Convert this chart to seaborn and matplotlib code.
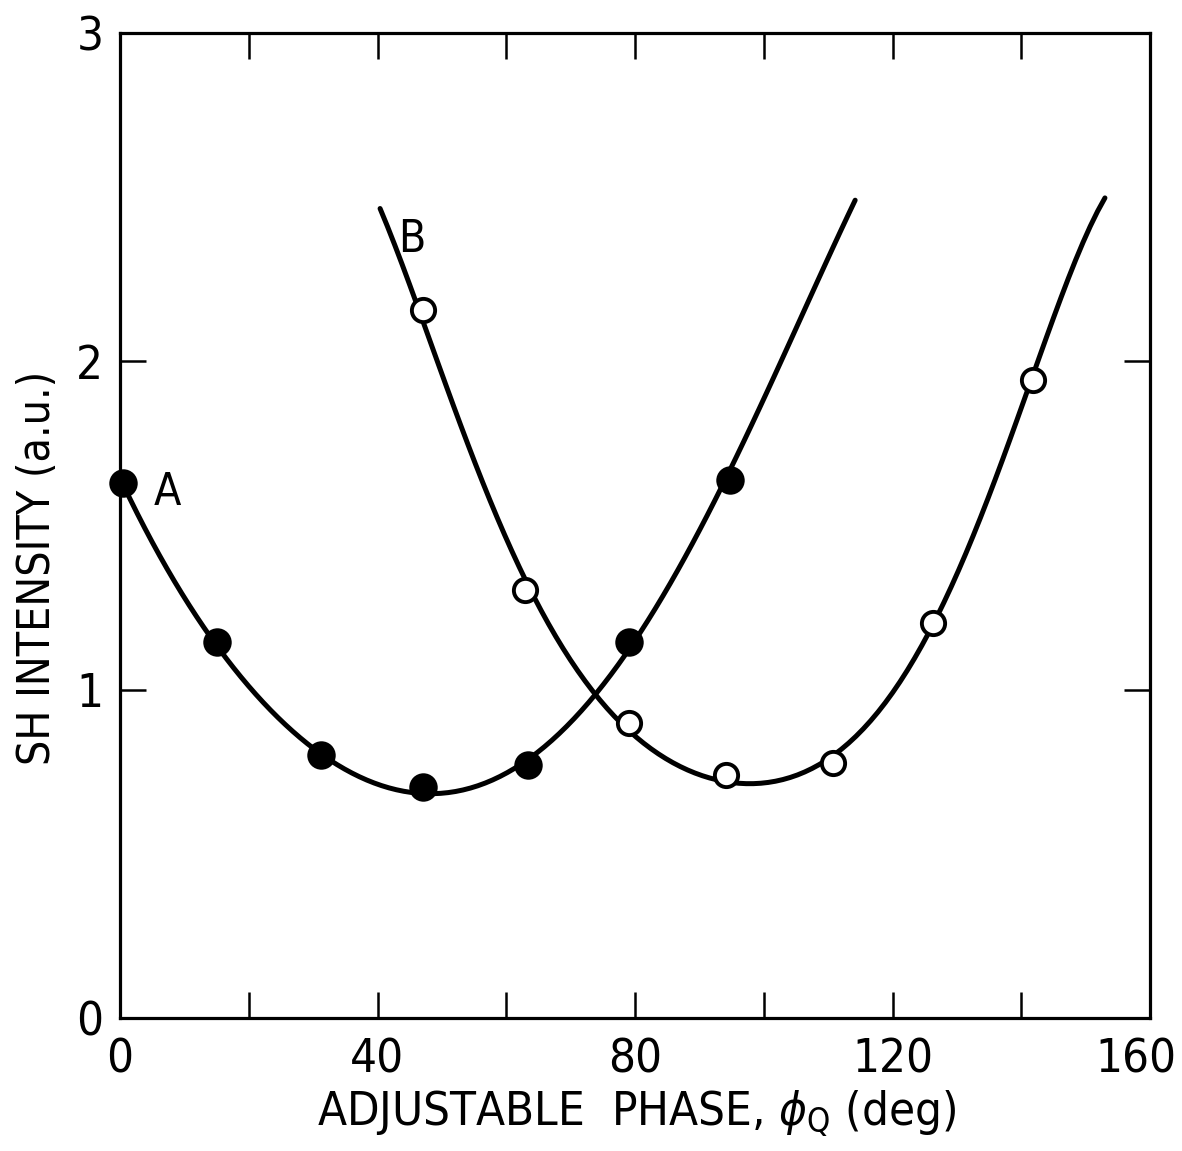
import matplotlib
matplotlib.use("Agg")
import matplotlib.pyplot as plt
import matplotlib.transforms as mtransforms
import numpy as np
import pandas as pd
import seaborn as sns
from matplotlib.ticker import FixedLocator

# ---- data ----
a_phase = [0.4, 15.1, 31.3, 47.1, 63.4, 79.0, 94.8]
a_intensity = [1.629, 1.146, 0.801, 0.705, 0.771, 1.146, 1.639]

b_phase = [47.1, 62.9, 79.1, 94.2, 110.8, 126.3, 141.9]
b_intensity = [2.157, 1.304, 0.900, 0.740, 0.776, 1.202, 1.943]

a_curve_phase = [0.4, 5.2, 9.8, 15.1, 21.7, 26.9, 31.3, 37.3, 43.0, 47.6, 53.9,
                 58.7, 63.4, 67.8, 74.6, 79.0, 84.9, 90.1, 94.8, 100.5, 105.6,
                 110.8, 114.2]
a_curve_intensity = [1.629, 1.446, 1.273, 1.146, 0.969, 0.867, 0.801, 0.735,
                     0.703, 0.689, 0.700, 0.735, 0.771, 0.847, 0.984, 1.148,
                     1.335, 1.490, 1.639, 1.903, 2.136, 2.349, 2.490]

b_curve_phase = [40.4, 43.8, 47.1, 49.2, 51.3, 53.3, 55.7, 57.5, 60.1, 62.9,
                 66.8, 70.4, 74.6, 79.1, 82.3, 87.5, 90.5, 95.8, 100.5, 105.6,
                 110.8, 116.0, 121.2, 126.3, 131.5, 136.2, 141.9, 146.5, 153.0]
b_curve_intensity = [2.441, 2.299, 2.157, 2.040, 1.892, 1.781, 1.649, 1.557,
                     1.430, 1.304, 1.190, 1.100, 0.984, 0.898, 0.826, 0.765,
                     0.735, 0.710, 0.715, 0.740, 0.776, 0.877, 1.040, 1.202,
                     1.446, 1.669, 1.943, 2.187, 2.512]

x_ticks = [0, 40, 80, 120, 160]
x_minor = [20, 60, 100, 140]
y_ticks = [0, 1, 2, 3]

curve_labels = ["A", "B"]
label_pos_x = [7.3, 45.3]
label_pos_y = [1.60, 2.37]

# ---- style ----
sns.set_theme(style="ticks")
FONT = ["DejaVu Sans"]
plt.rcParams["font.family"] = FONT
plt.rcParams["font.stretch"] = "condensed"
plt.rcParams["mathtext.fontset"] = "dejavusans"
for key in ["text.color", "axes.labelcolor", "xtick.color", "ytick.color",
            "axes.edgecolor"]:
    plt.rcParams[key] = "black"

fig = plt.figure(figsize=(11.82, 11.51), dpi=100)
ax = fig.add_axes([120 / 1182, 133 / 1151, 1030 / 1182, 985 / 1151])

# smooth hand-drawn style curves: polynomial fit through the read curve points
sns.regplot(x=np.array(a_curve_phase), y=np.array(a_curve_intensity), order=5,
            ci=None, scatter=False, truncate=True, ax=ax,
            line_kws=dict(color="black", linewidth=3.6, solid_capstyle="round"))
sns.regplot(x=np.array(b_curve_phase), y=np.array(b_curve_intensity), order=6,
            ci=None, scatter=False, truncate=True, ax=ax,
            line_kws=dict(color="black", linewidth=3.6, solid_capstyle="round"))

pa = pd.DataFrame({"phase": a_phase, "intensity": a_intensity})
pb = pd.DataFrame({"phase": b_phase, "intensity": b_intensity})
sns.scatterplot(data=pa, x="phase", y="intensity", s=360, color="black",
                edgecolor="black", linewidth=1.5, ax=ax, zorder=5, clip_on=False)
sns.scatterplot(data=pb, x="phase", y="intensity", s=280, facecolor="white",
                edgecolor="black", linewidth=2.8, ax=ax, zorder=5, clip_on=False)

for lab, lx, ly in zip(curve_labels, label_pos_x, label_pos_y):
    ax.text(lx, ly, lab, fontsize=32, ha="center", va="center")

ax.set_xlim(0, 160)
ax.set_ylim(0, 3)
ax.xaxis.set_major_locator(FixedLocator(x_ticks))
ax.xaxis.set_minor_locator(FixedLocator(x_minor))
ax.yaxis.set_major_locator(FixedLocator(y_ticks))
ax.set_xticklabels([str(v) for v in x_ticks])
ax.set_yticklabels([str(v) for v in y_ticks])

for side in ["top", "right", "left", "bottom"]:
    ax.spines[side].set_visible(True)
    ax.spines[side].set_linewidth(2.3)
    ax.spines[side].set_color("black")

ax.tick_params(which="both", direction="in", top=True, right=True,
               length=19, width=1.8, color="black")
ax.tick_params(axis="x", which="major", labelsize=34, pad=14)
ax.tick_params(axis="y", which="major", labelsize=34, pad=12)

# the last x tick label sits a little left, as in the reference
last = ax.get_xticklabels()[-1]
last.set_transform(last.get_transform() +
                   mtransforms.ScaledTranslation(-14 / 100, 0, fig.dpi_scale_trans))

ax.set_xlabel(r"ADJUSTABLE  PHASE, $\phi_{\mathrm{Q}}$ (deg)", fontsize=34)
ax.set_ylabel("SH INTENSITY (a.u.)", fontsize=32)
ax.xaxis.set_label_coords(0.502, -0.072)
ax.yaxis.set_label_coords(-0.059, 0.457)

fig.savefig("out.png", dpi=100, facecolor="white")
